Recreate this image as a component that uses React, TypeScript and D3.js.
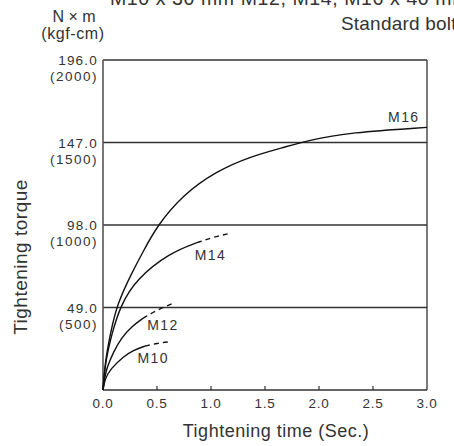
import React from "react";
import * as d3 from "d3";

const xTicks = [0, 0.5, 1.0, 1.5, 2.0, 2.5, 3.0];
const yTicks = [49, 98, 147, 196];
const yTickSub = ["(500)", "(1000)", "(1500)", "(2000)"];

const m16T = [0, 0.02, 0.07, 0.13, 0.27, 0.37, 0.5, 0.74, 1.05, 1.36, 1.67, 1.89, 2.29, 3.0];
const m16V = [0, 17, 34, 51, 70, 82, 97.5, 116, 130, 138.6, 144, 148.2, 153, 156];
const m14T = [0, 0.02, 0.08, 0.16, 0.31, 0.62, 0.87];
const m14V = [0, 16, 33, 50, 66, 81.5, 87.5];
const m14DT = [0.87, 1.02, 1.18];
const m14DV = [87.5, 90.8, 93.1];
const m12T = [0, 0.02, 0.1, 0.17, 0.27, 0.37];
const m12V = [0, 11, 23, 31, 38, 42.6];
const m12DT = [0.37, 0.5, 0.65];
const m12DV = [42.6, 47.5, 51.5];
const m10T = [0, 0.02, 0.07, 0.19, 0.28, 0.39];
const m10V = [0, 7, 12.5, 20, 23.6, 26.1];
const m10DT = [0.39, 0.5, 0.62];
const m10DV = [26.1, 27.7, 28.7];

const labelNames = ["M16", "M14", "M12", "M10"];
const labelT = [2.64, 0.85, 0.41, 0.32];
const labelV = [159.2, 77.2, 35.6, 16.2];

const FONT = "'Liberation Sans', Arial, sans-serif";

export default function App() {
  const x = d3.scaleLinear().domain([0, 3]).range([103, 427]);
  const y = d3.scaleLinear().domain([0, 196]).range([390, 60]);
  const line = d3
    .line<[number, number]>()
    .x((d) => x(d[0]))
    .y((d) => y(d[1]))
    .curve(d3.curveBasis);
  const zip = (a: number[], b: number[]) => a.map((t, i) => [t, b[i]] as [number, number]);
  const solid = [zip(m16T, m16V), zip(m14T, m14V), zip(m12T, m12V), zip(m10T, m10V)];
  const dashed = [zip(m14DT, m14DV), zip(m12DT, m12DV), zip(m10DT, m10DV)];
  const textColor = "#333";

  return (
    <svg
      width={454}
      height={446}
      style={{ position: "absolute", left: 0, top: 0, background: "#fff" }}
      fontFamily={FONT}
    >
      {/* top clipped titles */}
      <text x={110} y={5} fontSize={19.5} fill={textColor} letterSpacing={0.6}>
        M10 x 30 mm M12, M14, M16 x 40 mm
      </text>
      <text x={341} y={30} fontSize={19} fill={textColor} letterSpacing={0.2}>
        Standard bolt
      </text>
      {/* unit label */}
      <text x={74} y={22} fontSize={16} fill={textColor} textAnchor="middle">
        N × m
      </text>
      <text x={73} y={39} fontSize={16} fill={textColor} textAnchor="middle" letterSpacing={0.6}>
        (kgf-cm)
      </text>

      {/* grid lines */}
      {yTicks.map((v) => (
        <line key={v} x1={x(0)} x2={x(3)} y1={y(v)} y2={y(v)} stroke="#333" strokeWidth={1.3} />
      ))}
      {/* axes frame */}
      <line x1={x(0)} x2={x(0)} y1={y(196)} y2={y(0)} stroke="#555" strokeWidth={1.6} />
      <line x1={x(3)} x2={x(3)} y1={y(196)} y2={y(0)} stroke="#333" strokeWidth={1.3} />
      <line x1={x(0)} x2={x(3)} y1={y(0)} y2={y(0)} stroke="#333" strokeWidth={1.3} />
      {/* x ticks */}
      {xTicks.map((t) => (
        <g key={t}>
          {t > 0 && t < 3 && (
            <line x1={x(t)} x2={x(t)} y1={y(0)} y2={y(0) - 4} stroke="#333" strokeWidth={1.2} />
          )}
          <text x={x(t)} y={408} fontSize={13.5} fill={textColor} textAnchor="middle" letterSpacing={0.8}>
            {t.toFixed(1)}
          </text>
        </g>
      ))}
      {/* y tick labels */}
      {yTicks.map((v, i) => (
        <g key={v}>
          <text x={98} y={y(v) + 5} fontSize={13.5} fill={textColor} textAnchor="end" letterSpacing={1.2}>
            {v.toFixed(1)}
          </text>
          <text x={98} y={y(v) + 21} fontSize={13.5} fill={textColor} textAnchor="end" letterSpacing={1.5}>
            {yTickSub[i]}
          </text>
        </g>
      ))}

      {/* curves */}
      {solid.map((d, i) => (
        <path key={"s" + i} d={line(d) || ""} fill="none" stroke="#111" strokeWidth={1.4} />
      ))}
      {dashed.map((d, i) => (
        <path
          key={"d" + i}
          d={line(d) || ""}
          fill="none"
          stroke="#111"
          strokeWidth={1.4}
          strokeDasharray="5,4"
        />
      ))}
      {labelNames.map((n, i) => (
        <text key={n} x={x(labelT[i])} y={y(labelV[i])} fontSize={14} fill={textColor} letterSpacing={1.4}>
          {n}
        </text>
      ))}

      {/* axis titles */}
      <text x={276} y={437} fontSize={18} fill={textColor} textAnchor="middle" letterSpacing={0.5}>
        Tightening time (Sec.)
      </text>
      <text
        transform={`translate(27,257) rotate(-90)`}
        fontSize={19}
        fill={textColor}
        textAnchor="middle"
        letterSpacing={0.5}
      >
        Tightening torque
      </text>
    </svg>
  );
}
